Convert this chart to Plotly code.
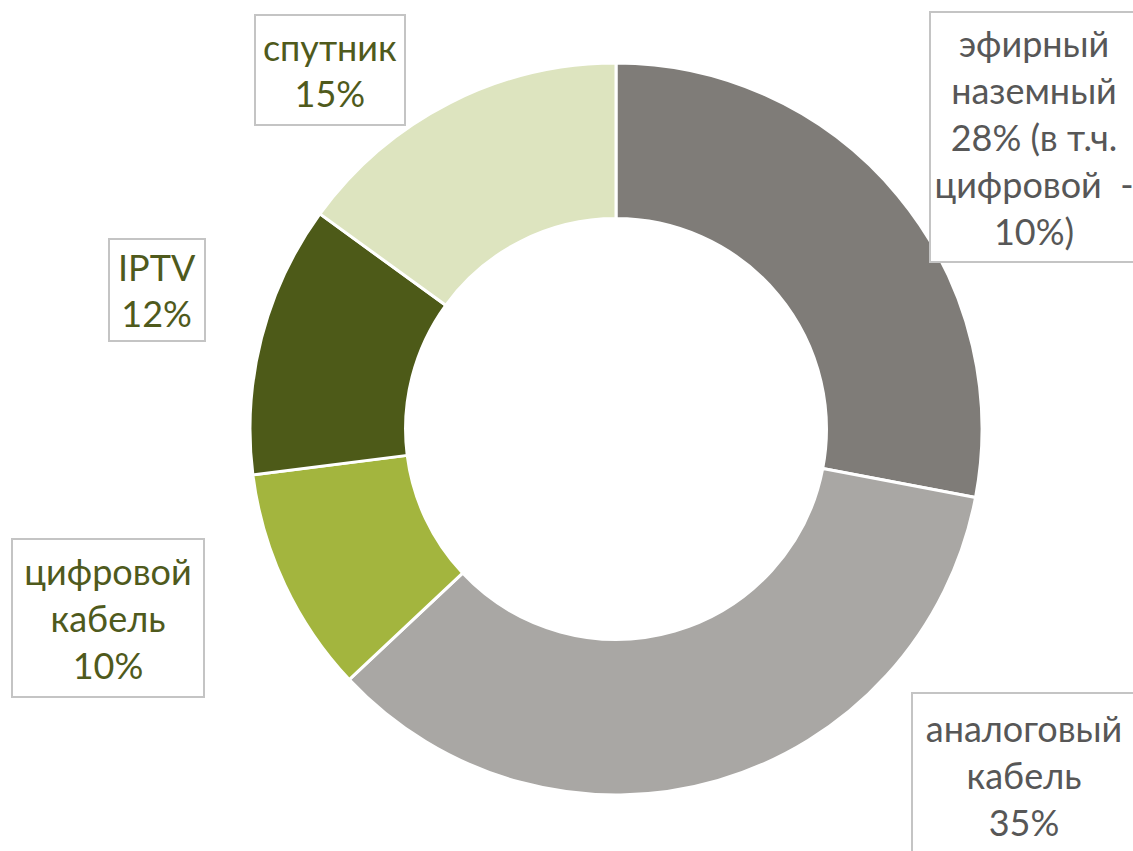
import plotly.graph_objects as go

categories = ["эфирный наземный", "аналоговый кабель", "цифровой кабель", "IPTV", "спутник"]
values = [28, 35, 10, 12, 15]
colors = ["#7f7c78", "#a9a7a4", "#a3b53e", "#4d5a18", "#dde4bf"]
label_texts = [
    "эфирный<br>наземный<br>28% (в т.ч.<br>цифровой  -<br>10%)",
    "аналоговый<br>кабель<br>35%",
    "цифровой<br>кабель<br>10%",
    "IPTV<br>12%",
    "спутник<br>15%",
]
text_colors = ["#575757", "#575757", "#4f5a1c", "#4f5a1c", "#4f5a1c"]

W, H = 1133, 851
cx, cy, r = 616, 429, 366

fig = go.Figure(go.Pie(
    labels=categories, values=values, sort=False, direction="clockwise", rotation=0,
    hole=0.575, textinfo="none", hoverinfo="label+percent",
    marker=dict(colors=colors, line=dict(color="white", width=3)),
    domain=dict(x=[(cx - r) / W, (cx + r) / W], y=[(H - cy - r) / H, (H - cy + r) / H]),
    showlegend=False,
))

# label box centers (pixels) and sizes
boxes = [
    (1034, 137, 210, 252),
    (1024, 775, 226, 166),
    (108, 618, 194, 160),
    (157, 290, 98, 104),
    (330, 70, 152, 112),
]
for txt, col, (bx, by, bw, bh) in zip(label_texts, text_colors, boxes):
    fig.add_annotation(
        x=bx / W, y=(H - by) / H, xref="paper", yref="paper",
        xanchor="center", yanchor="middle", showarrow=False,
        text=txt, align="center",
        font=dict(family="Lato, Carlito, sans-serif", size=36, color=col),
        width=bw - 8, height=bh - 8,
        bordercolor="#c4c4c4", borderwidth=2, borderpad=2, bgcolor="white",
    )

fig.update_layout(
    width=W, height=H, margin=dict(l=0, r=0, t=0, b=0),
    paper_bgcolor="white", plot_bgcolor="white",
)
fig.write_html("out.html", config={"displayModeBar": False},
               post_script="document.body.style.margin='0px';")
